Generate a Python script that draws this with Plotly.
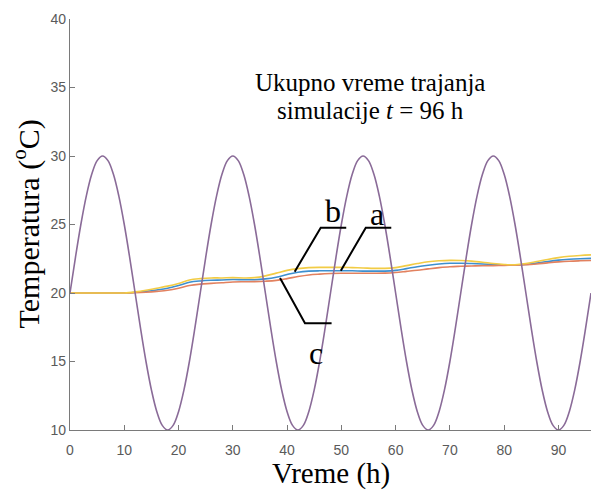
import plotly.graph_objects as go

# Time axis for indoor temperatures (hours), sampled every 2 h
hours = list(range(0, 98, 2))

# Time axis for outdoor temperature (hours), sampled every 1 h
hours_out = list(range(0, 97))

# Outdoor air temperature (daily cycle), hourly
t_outdoor = [
    20, 22.59, 25, 27.07, 28.66, 29.66, 30, 29.66, 28.66, 27.07, 25, 22.59,
    20, 17.41, 15, 12.93, 11.34, 10.34, 10, 10.34, 11.34, 12.93, 15, 17.41,
    20, 22.59, 25, 27.07, 28.66, 29.66, 30, 29.66, 28.66, 27.07, 25, 22.59,
    20, 17.41, 15, 12.93, 11.34, 10.34, 10, 10.34, 11.34, 12.93, 15, 17.41,
    20, 22.59, 25, 27.07, 28.66, 29.66, 30, 29.66, 28.66, 27.07, 25, 22.59,
    20, 17.41, 15, 12.93, 11.34, 10.34, 10, 10.34, 11.34, 12.93, 15, 17.41,
    20, 22.59, 25, 27.07, 28.66, 29.66, 30, 29.66, 28.66, 27.07, 25, 22.59,
    20, 17.41, 15, 12.93, 11.34, 10.34, 10, 10.34, 11.34, 12.93, 15, 17.41,
    20,
]

# Indoor temperature, case a
t_a = [20.0, 20.0, 20.0, 20.0, 20.0, 20.0, 20.05, 20.12, 20.22, 20.35, 20.55, 20.78,
       20.88, 20.93, 20.95, 20.98, 20.97, 20.97, 21.03, 21.15, 21.35, 21.52, 21.6, 21.62,
       21.62, 21.62, 21.62, 21.6, 21.6, 21.6, 21.65, 21.78, 21.92, 22.03, 22.12, 22.17,
       22.17, 22.15, 22.12, 22.08, 22.05, 22.04, 22.08, 22.18, 22.3, 22.4, 22.46, 22.5,
       22.53]

# Indoor temperature, case c
t_c = [20.0, 20.0, 20.0, 20.0, 20.0, 20.0, 20.02, 20.06, 20.12, 20.2, 20.35, 20.55,
       20.65, 20.7, 20.75, 20.8, 20.82, 20.83, 20.86, 20.92, 21.05, 21.2, 21.32, 21.38,
       21.42, 21.44, 21.44, 21.44, 21.44, 21.45, 21.5, 21.58, 21.66, 21.76, 21.85, 21.92,
       21.95, 21.97, 21.99, 22.0, 22.02, 22.03, 22.06, 22.12, 22.2, 22.27, 22.32, 22.35,
       22.37]

# Indoor temperature, case b
t_b = [20.0, 20.0, 20.0, 20.0, 20.0, 20.0, 20.08, 20.2, 20.35, 20.5, 20.7, 20.95,
       21.05, 21.1, 21.1, 21.12, 21.1, 21.12, 21.25, 21.45, 21.65, 21.78, 21.85, 21.87,
       21.87, 21.87, 21.85, 21.83, 21.8, 21.8, 21.85, 22.0, 22.15, 22.28, 22.35, 22.38,
       22.37, 22.33, 22.25, 22.15, 22.08, 22.06, 22.15, 22.3, 22.45, 22.58, 22.68, 22.74,
       22.78]

x_ticks = [0, 10, 20, 30, 40, 50, 60, 70, 80, 90]
y_ticks = [10, 15, 20, 25, 30, 35, 40]

fig = go.Figure()

series = [
    (hours, t_a, "#3d8fcf"),
    (hours, t_c, "#e2815f"),
    (hours, t_b, "#f2cc45"),
    (hours_out, t_outdoor, "#8a6b98"),
]
for xs, ys, col in series:
    fig.add_trace(go.Scatter(
        x=xs, y=ys, mode="lines",
        line=dict(color=col, width=1.6, shape="spline", smoothing=1),
        showlegend=False, hoverinfo="skip",
    ))

# Leader lines for the curve labels
leaders = [
    [(41.4, 21.55), (46.2, 24.77), (50.9, 24.77)],   # b
    [(49.9, 21.63), (54.5, 24.77), (59.2, 24.77)],   # a
    [(38.7, 21.1), (43.3, 17.8), (48.2, 17.8)],      # c
]
for pts in leaders:
    path = "M " + " L ".join(f"{px},{py}" for px, py in pts)
    fig.add_shape(type="path", path=path, xref="x", yref="y",
                  line=dict(color="black", width=2))

serif = "Liberation Serif, Times New Roman, serif"
labels = [("b", 48.4, 25.95), ("a", 56.6, 25.8), ("c", 45.3, 15.6)]
for txt, lx, ly in labels:
    fig.add_annotation(x=lx, y=ly, text=txt, showarrow=False,
                       font=dict(family=serif, size=32, color="black"),
                       xanchor="center", yanchor="middle")

fig.add_annotation(x=55.3, y=35.35, text="Ukupno vreme trajanja", showarrow=False,
                   font=dict(family=serif, size=25, color="black"),
                   xanchor="center", yanchor="middle")
fig.add_annotation(x=55.3, y=33.35, text="simulacije <i>t</i> = 96 h", showarrow=False,
                   font=dict(family=serif, size=25, color="black"),
                   xanchor="center", yanchor="middle")

# Axis titles
fig.add_annotation(xref="paper", yref="paper", x=0, y=0.5, xshift=-43,
                   text="Temperatura (<sup>o</sup>C)", textangle=-90, showarrow=False,
                   font=dict(family=serif, size=30, color="black"),
                   xanchor="center", yanchor="middle")
fig.add_annotation(xref="paper", yref="paper", x=0.5, y=0, yshift=-43,
                   text="Vreme (h)", showarrow=False,
                   font=dict(family=serif, size=29, color="black"),
                   xanchor="center", yanchor="middle")

axis_font = dict(family="Liberation Sans, Arial, sans-serif", size=14, color="#5a5a5a")
fig.update_xaxes(range=[0, 96], tickvals=x_ticks, ticks="inside", ticklen=5,
                 tickcolor="#7a7a7a", linecolor="#7a7a7a", linewidth=1.3,
                 showline=True, showgrid=False, zeroline=False, tickfont=axis_font,
                 ticklabelstandoff=7)
fig.update_yaxes(range=[10, 40], tickvals=y_ticks, ticks="inside", ticklen=5,
                 tickcolor="#7a7a7a", linecolor="#7a7a7a", linewidth=1.3,
                 showline=True, showgrid=False, zeroline=False, tickfont=axis_font)

fig.update_layout(
    width=591, height=491,
    margin=dict(l=70, r=0, t=19, b=61),
    plot_bgcolor="white", paper_bgcolor="white",
)

fig.write_html("out.html")
